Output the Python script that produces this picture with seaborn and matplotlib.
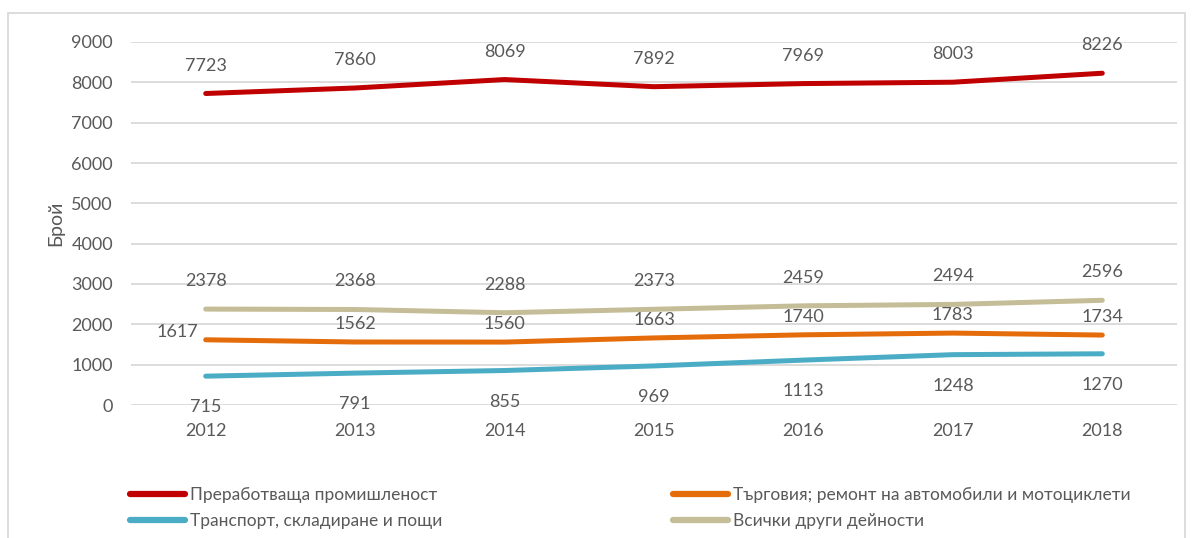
import matplotlib
matplotlib.use("Agg")
import matplotlib.pyplot as plt
from matplotlib.patches import Rectangle
import seaborn as sns
import pandas as pd

years = [2012, 2013, 2014, 2015, 2016, 2017, 2018]
manufacturing = [7723, 7860, 8069, 7892, 7969, 8003, 8226]
trade = [1617, 1562, 1560, 1663, 1740, 1783, 1734]
transport = [715, 791, 855, 969, 1113, 1248, 1270]
other = [2378, 2368, 2288, 2373, 2459, 2494, 2596]

names = ["Преработваща промишленост",
         "Търговия; ремонт на автомобили и мотоциклети",
         "Транспорт, складиране и пощи",
         "Всички други дейности"]
colors = ["#C00000", "#E46C0A", "#4BACC6", "#C4BD97"]
y_label = "Брой"
y_ticks = [0, 1000, 2000, 3000, 4000, 5000, 6000, 7000, 8000, 9000]

series = [manufacturing, trade, transport, other]
df = pd.DataFrame({
    "year": years * 4,
    "value": sum(series, []),
    "series": sum([[n] * len(years) for n in names], []),
})

sns.set_theme(style="white")
plt.rcParams["font.family"] = ["Lato", "DejaVu Sans"]
text_color = "#595959"
fs = 13

fig = plt.figure(figsize=(11.92, 5.38), dpi=100)
ax = fig.add_axes([131 / 1192, 1 - 405 / 538, (1177 - 131) / 1192, (405 - 42) / 538])

sns.lineplot(data=df, x="year", y="value", hue="series", hue_order=names,
             palette=colors, linewidth=3.6, ax=ax, legend=True,
             solid_capstyle="round", solid_joinstyle="round")

ax.set_xlim(2011.5, 2018.5)
ax.set_ylim(0, 9000)
ax.set_yticks(y_ticks)
ax.set_xticks(years)
ax.set_xticklabels([str(y) for y in years])
ax.grid(axis="y", color="#D9D9D9", linewidth=1.3)
ax.set_axisbelow(True)
for s in ax.spines.values():
    s.set_visible(False)
ax.tick_params(axis="y", length=0, pad=13, labelsize=fs, labelcolor=text_color)
ax.tick_params(axis="x", length=0, pad=13, labelsize=fs, labelcolor=text_color)
ax.set_xlabel("")
ax.set_ylabel(y_label, fontsize=14, color=text_color, labelpad=5)

# data labels (pixel offsets)
offsets = [(0, 28), (0, 18), (0, -31), (0, 28)]
for vals, (dx, dy) in zip(series, offsets):
    for i, (x, v) in enumerate(zip(years, vals)):
        ddx, ddy = dx, dy
        if vals is trade and i == 0:
            ddx, ddy = -28, 8
        ax.annotate(str(v), (x, v), xytext=(ddx, ddy), textcoords="offset pixels",
                    ha="center", va="center", fontsize=fs, color=text_color)

handles, labels = ax.get_legend_handles_labels()
ax.get_legend().remove()
hmap = dict(zip(labels, handles))
order = [names[0], names[2], names[1], names[3]]
leg = fig.legend([hmap[n] for n in order], order, ncol=2, loc="upper left",
                 bbox_to_anchor=(130 / 1192, 1 - 487 / 538), frameon=False,
                 fontsize=12.5, handlelength=3.15, handletextpad=0.3,
                 columnspacing=13.3, labelspacing=0.58, borderaxespad=0,
                 borderpad=0)
for t in leg.get_texts():
    t.set_color(text_color)
for h in leg.get_lines():
    h.set_linewidth(4.5)
    h.set_solid_capstyle("round")

fig.patches.append(Rectangle((8 / 1192, -0.1), (1185 - 8) / 1192, 1 - 13 / 538 + 0.1,
                             transform=fig.transFigure, fill=False,
                             edgecolor="#D9D9D9", linewidth=1.3))

fig.savefig("out.png", dpi=100, facecolor="white")
